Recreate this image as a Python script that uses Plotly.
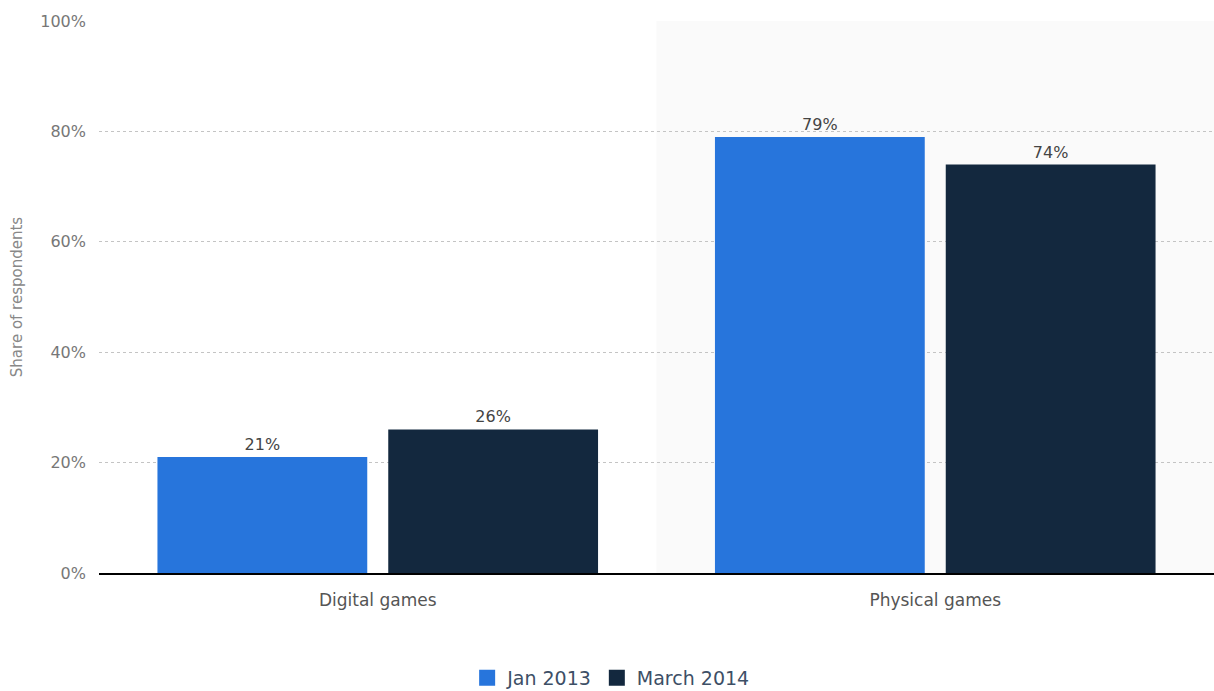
import plotly.graph_objects as go

categories = ["Digital games", "Physical games"]
series_names = ["Jan 2013", "March 2014"]
jan_2013 = [21, 79]
march_2014 = [26, 74]
colors = ["#2775dc", "#13283e"]
y_ticks = [0, 20, 40, 60, 80, 100]
y_tick_labels = ["0%", "20%", "40%", "60%", "80%", "100%"]

values = [jan_2013, march_2014]

fig = go.Figure()
for name, vals, col in zip(series_names, values, colors):
    fig.add_trace(go.Bar(
        x=categories, y=vals, name=name, showlegend=False,
        marker=dict(color=col, line=dict(width=0)),
        text=[f"{v}%" for v in vals], textposition="outside",
        textfont=dict(family="DejaVu Sans", size=16, color="#444444"),
        cliponaxis=False,
    ))
# legend entries with larger square symbols
for name, col in zip(series_names, colors):
    fig.add_trace(go.Scatter(
        x=[None], y=[None], mode="markers", name=name,
        marker=dict(symbol="square", size=20, color=col),
    ))

fig.add_shape(type="rect", xref="x", yref="paper", x0=0.5, x1=1.5, y0=0, y1=1,
              fillcolor="#fafafa", line=dict(width=0), layer="below")

fig.update_layout(
    width=1214, height=691,
    margin=dict(l=99, r=0, t=21, b=118),
    paper_bgcolor="white", plot_bgcolor="white",
    barmode="group", bargap=0.172, bargroupgap=0.091,
    font=dict(family="DejaVu Sans", size=16, color="#666666"),
    showlegend=True,
    legend=dict(orientation="h", xref="container", yref="container",
                x=0.503, xanchor="center", y=0.019, yanchor="middle",
                font=dict(family="DejaVu Sans", size=19, color="#3d4f66"),
                itemsizing="trace", itemwidth=30),
    xaxis=dict(type="category", showline=True, linecolor="#000000", linewidth=1.5,
               showgrid=False, ticks="", tickfont=dict(size=17, color="#555555"),
               ticklabelstandoff=11, automargin=False, range=[-0.5, 1.5]),
    yaxis=dict(range=[0, 100], tickvals=y_ticks, ticktext=y_tick_labels,
               showgrid=True, gridcolor="#c4c4c4", griddash="dot", gridwidth=1,
               zeroline=False, tickfont=dict(size=16, color="#777777"),
               ticklabelstandoff=12, automargin=False,
               title=dict(text="Share of respondents", font=dict(size=15, color="#888888"),
                          standoff=14)),
)

fig.write_html("out.html")
